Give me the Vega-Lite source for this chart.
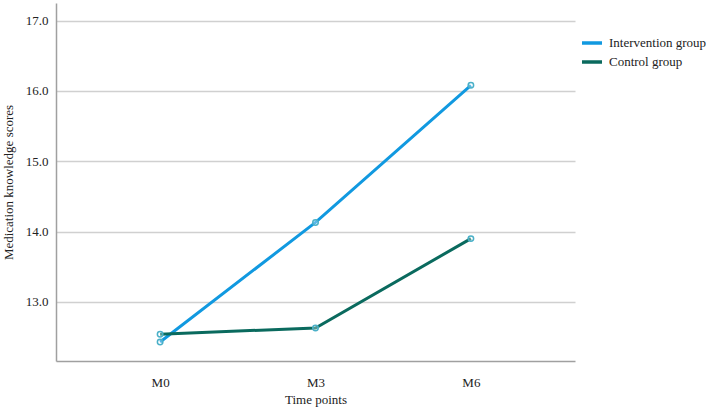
{
  "$schema": "https://vega.github.io/schema/vega-lite/v6.json",
  "width": 519,
  "height": 358,
  "autosize": {"type": "none"},
  "padding": {"left": 56, "top": 3, "right": 131, "bottom": 51},
  "background": "white",
  "config": {
    "view": {"stroke": null},
    "font": "Liberation Serif, Times New Roman, serif"
  },
  "data": {
    "values": [
      {"time": "M0", "group": "Intervention group", "score": 12.43},
      {"time": "M3", "group": "Intervention group", "score": 14.13},
      {"time": "M6", "group": "Intervention group", "score": 16.08},
      {"time": "M0", "group": "Control group", "score": 12.54},
      {"time": "M3", "group": "Control group", "score": 12.63},
      {"time": "M6", "group": "Control group", "score": 13.90}
    ]
  },
  "encoding": {
    "x": {
      "field": "time", "type": "ordinal",
      "scale": {"type": "point", "padding": 0.67},
      "axis": {
        "title": "Time points", "labelAngle": 0, "ticks": false, "grid": false,
        "domainColor": "#a0a0a0", "domainWidth": 1.5,
        "labelFont": "Liberation Serif, Times New Roman, serif", "labelFontSize": 13, "labelColor": "#222",
        "labelPadding": 15,
        "titleFont": "Liberation Serif, Times New Roman, serif", "titleFontSize": 13, "titleFontWeight": "normal", "titleColor": "#222",
        "titlePadding": 4
      }
    },
    "y": {
      "field": "score", "type": "quantitative",
      "scale": {"domain": [12.16, 17.25], "nice": false, "zero": false},
      "axis": {
        "title": "Medication knowledge scores", "values": [13, 14, 15, 16, 17], "format": ".1f",
        "ticks": false, "grid": true, "gridColor": "#d0d0d0", "gridWidth": 1.5,
        "domainColor": "#a0a0a0", "domainWidth": 1.5,
        "labelFont": "Liberation Serif, Times New Roman, serif", "labelFontSize": 13, "labelColor": "#222",
        "labelPadding": 8,
        "titleFont": "Liberation Serif, Times New Roman, serif", "titleFontSize": 13, "titleFontWeight": "normal", "titleColor": "#222",
        "titlePadding": 10
      }
    },
    "color": {
      "field": "group", "type": "nominal",
      "scale": {"domain": ["Intervention group", "Control group"], "range": ["#1199e0", "#0a6a5e"]},
      "legend": {
        "title": null, "orient": "none", "legendX": 524, "legendY": 28,
        "symbolType": "stroke", "symbolSize": 400, "symbolStrokeWidth": 3.5,
        "labelFont": "Liberation Serif, Times New Roman, serif", "labelFontSize": 13, "labelColor": "#222",
        "labelOffset": 5, "rowPadding": 0
      }
    }
  },
  "layer": [
    {"mark": {"type": "line", "strokeWidth": 3}},
    {"mark": {"type": "point", "filled": false, "size": 30, "strokeWidth": 1.5, "stroke": "#4ab0c8", "fill": "white", "fillOpacity": 0.3}}
  ]
}
